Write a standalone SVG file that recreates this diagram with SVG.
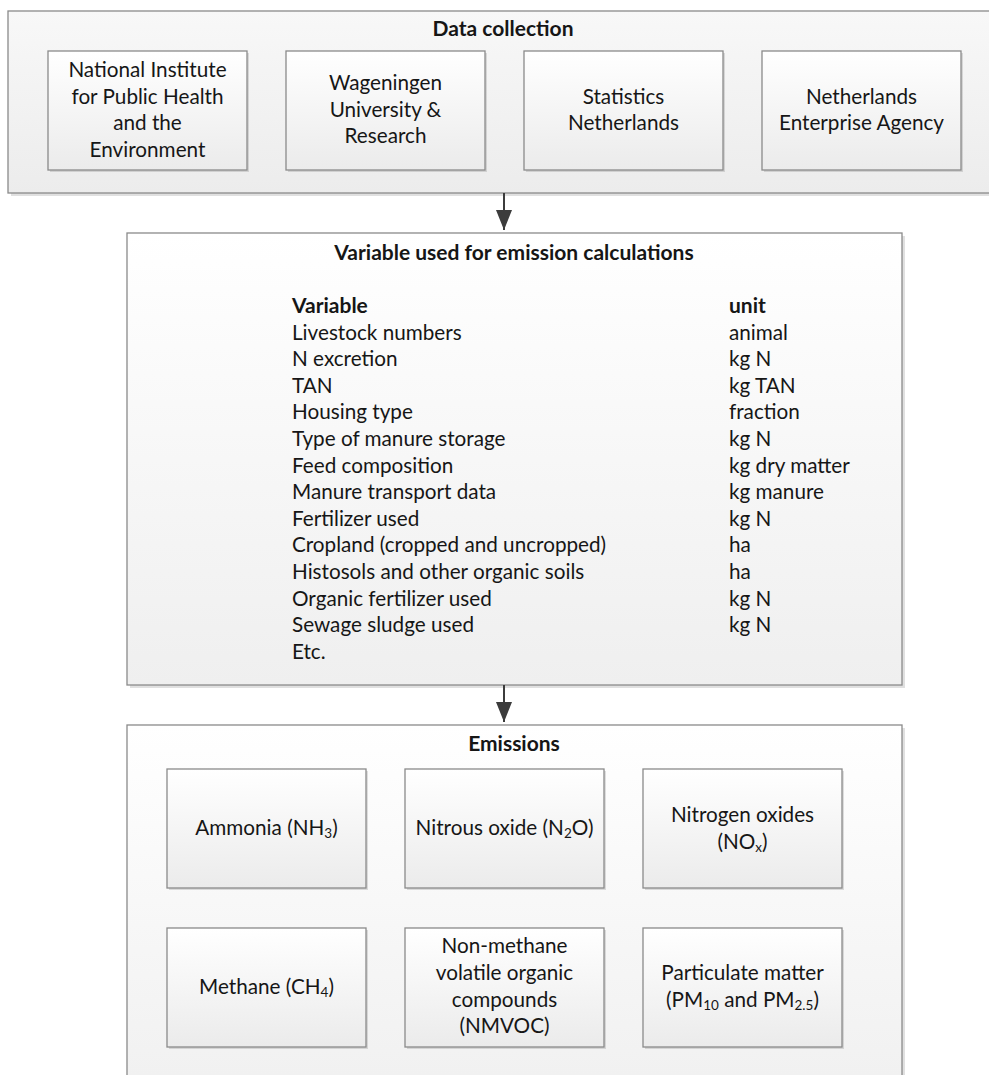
<svg xmlns="http://www.w3.org/2000/svg" width="989" height="1075" viewBox="0 0 989 1075">
<style>
text{font-family:Lato,"Open Sans","DejaVu Sans",sans-serif;font-size:20.7px;fill:#161616}
.c{text-anchor:middle}
.b{font-weight:bold;font-size:21px}
.sub{font-size:13.5px}
.outer{stroke:#8a8a8a;stroke-width:1.3}
.inner{fill:url(#gi);stroke:#8a8a8a;stroke-width:1.3}
.sh{fill:#000;opacity:0.12}
.conn{stroke:#3c3c3c;stroke-width:2;fill:none}
</style>
<defs>
<linearGradient id="gt" x1="0" y1="0" x2="0" y2="1"><stop offset="0" stop-color="#f8f8f8"/><stop offset="1" stop-color="#ececec"/></linearGradient>
<linearGradient id="go" x1="0" y1="0" x2="0" y2="1"><stop offset="0" stop-color="#ffffff"/><stop offset="1" stop-color="#efefef"/></linearGradient>
<linearGradient id="gi" x1="0" y1="0" x2="0" y2="1"><stop offset="0" stop-color="#ffffff"/><stop offset="1" stop-color="#ebebeb"/></linearGradient>
<marker id="ah" markerWidth="20" markerHeight="16" refX="20" refY="8" orient="auto" markerUnits="userSpaceOnUse" viewBox="0 0 20 16"><path d="M0,0 L20,8 L0,16 Z" fill="#3c3c3c"/></marker>
</defs>
<rect width="989" height="1075" fill="#ffffff"/>

<g id="data-collection">
<rect class="sh" x="11" y="14" width="990" height="182"/>
<rect class="outer" x="8" y="11" width="990" height="182" fill="url(#gt)"/>
<text class="c b" x="503" y="36">Data collection</text>
</g>
<g id="rivm">
<rect class="sh" x="50" y="53" width="199" height="119"/>
<rect class="inner" x="48" y="51" width="199" height="119"/>
<text class="c" x="147.5" y="77">National Institute</text>
<text class="c" x="147.5" y="103.5">for Public Health</text>
<text class="c" x="147.5" y="130">and the</text>
<text class="c" x="147.5" y="156.5">Environment</text>
</g>
<g id="wur">
<rect class="sh" x="288" y="53" width="199" height="119"/>
<rect class="inner" x="286" y="51" width="199" height="119"/>
<text class="c" x="385.5" y="90">Wageningen</text>
<text class="c" x="385.5" y="116.5">University &amp;</text>
<text class="c" x="385.5" y="143">Research</text>
</g>
<g id="cbs">
<rect class="sh" x="526" y="53" width="199" height="119"/>
<rect class="inner" x="524" y="51" width="199" height="119"/>
<text class="c" x="623.5" y="103.5">Statistics</text>
<text class="c" x="623.5" y="130">Netherlands</text>
</g>
<g id="rvo">
<rect class="sh" x="764" y="53" width="199" height="119"/>
<rect class="inner" x="762" y="51" width="199" height="119"/>
<text class="c" x="861.5" y="103.5">Netherlands</text>
<text class="c" x="861.5" y="130">Enterprise Agency</text>
</g>

<g id="variables">
<rect class="sh" x="130" y="236" width="775" height="452"/>
<rect class="outer" x="127" y="233" width="775" height="452" fill="url(#go)"/>
<text class="c b" x="514" y="260">Variable used for emission calculations</text>
<g>
<text class="b" x="292" y="313">Variable</text>
<text x="292" y="339.6">Livestock numbers</text>
<text x="292" y="366.2">N excretion</text>
<text x="292" y="392.8">TAN</text>
<text x="292" y="419.4">Housing type</text>
<text x="292" y="446">Type of manure storage</text>
<text x="292" y="472.6">Feed composition</text>
<text x="292" y="499.2">Manure transport data</text>
<text x="292" y="525.8">Fertilizer used</text>
<text x="292" y="552.4">Cropland (cropped and uncropped)</text>
<text x="292" y="579">Histosols and other organic soils</text>
<text x="292" y="605.6">Organic fertilizer used</text>
<text x="292" y="632.2">Sewage sludge used</text>
<text x="292" y="658.8">Etc.</text>
</g>
<g>
<text class="b" x="729" y="313">unit</text>
<text x="729" y="339.6">animal</text>
<text x="729" y="366.2">kg N</text>
<text x="729" y="392.8">kg TAN</text>
<text x="729" y="419.4">fraction</text>
<text x="729" y="446">kg N</text>
<text x="729" y="472.6">kg dry matter</text>
<text x="729" y="499.2">kg manure</text>
<text x="729" y="525.8">kg N</text>
<text x="729" y="552.4">ha</text>
<text x="729" y="579">ha</text>
<text x="729" y="605.6">kg N</text>
<text x="729" y="632.2">kg N</text>
</g>
</g>

<g id="emissions">
<rect class="sh" x="130" y="728" width="775" height="400"/>
<rect class="outer" x="127" y="725" width="775" height="400" fill="url(#go)"/>
<text class="c b" x="514" y="751">Emissions</text>
</g>
<g id="ammonia">
<rect class="sh" x="169" y="771" width="199" height="119"/>
<rect class="inner" x="167" y="769" width="199" height="119"/>
<text class="c" x="266.5" y="835">Ammonia (NH<tspan class="sub" dy="3">3</tspan><tspan dy="-3">)</tspan></text>
</g>
<g id="nitrous-oxide">
<rect class="sh" x="407" y="771" width="199" height="119"/>
<rect class="inner" x="405" y="769" width="199" height="119"/>
<text class="c" x="504.5" y="835">Nitrous oxide (N<tspan class="sub" dy="3">2</tspan><tspan dy="-3">O)</tspan></text>
</g>
<g id="nitrogen-oxides">
<rect class="sh" x="645" y="771" width="199" height="119"/>
<rect class="inner" x="643" y="769" width="199" height="119"/>
<text class="c" x="742.5" y="822">Nitrogen oxides</text>
<text class="c" x="742.5" y="849">(NO<tspan class="sub" dy="3">x</tspan><tspan dy="-3">)</tspan></text>
</g>
<g id="methane">
<rect class="sh" x="169" y="930" width="199" height="119"/>
<rect class="inner" x="167" y="928" width="199" height="119"/>
<text class="c" x="266.5" y="994">Methane (CH<tspan class="sub" dy="3">4</tspan><tspan dy="-3">)</tspan></text>
</g>
<g id="nmvoc">
<rect class="sh" x="407" y="930" width="199" height="119"/>
<rect class="inner" x="405" y="928" width="199" height="119"/>
<text class="c" x="504.5" y="953">Non-methane</text>
<text class="c" x="504.5" y="980">volatile organic</text>
<text class="c" x="504.5" y="1007">compounds</text>
<text class="c" x="504.5" y="1033">(NMVOC)</text>
</g>
<g id="particulate-matter">
<rect class="sh" x="645" y="930" width="199" height="119"/>
<rect class="inner" x="643" y="928" width="199" height="119"/>
<text class="c" x="742.5" y="980">Particulate matter</text>
<text class="c" x="742.5" y="1007">(PM<tspan class="sub" dy="3">10</tspan><tspan dy="-3"> and PM</tspan><tspan class="sub" dy="3">2.5</tspan><tspan dy="-3">)</tspan></text>
</g>

<g id="connectors">
<line class="conn" x1="504" y1="193" x2="504" y2="230" marker-end="url(#ah)"/>
<line class="conn" x1="504" y1="685" x2="504" y2="722" marker-end="url(#ah)"/>
</g>
</svg>
